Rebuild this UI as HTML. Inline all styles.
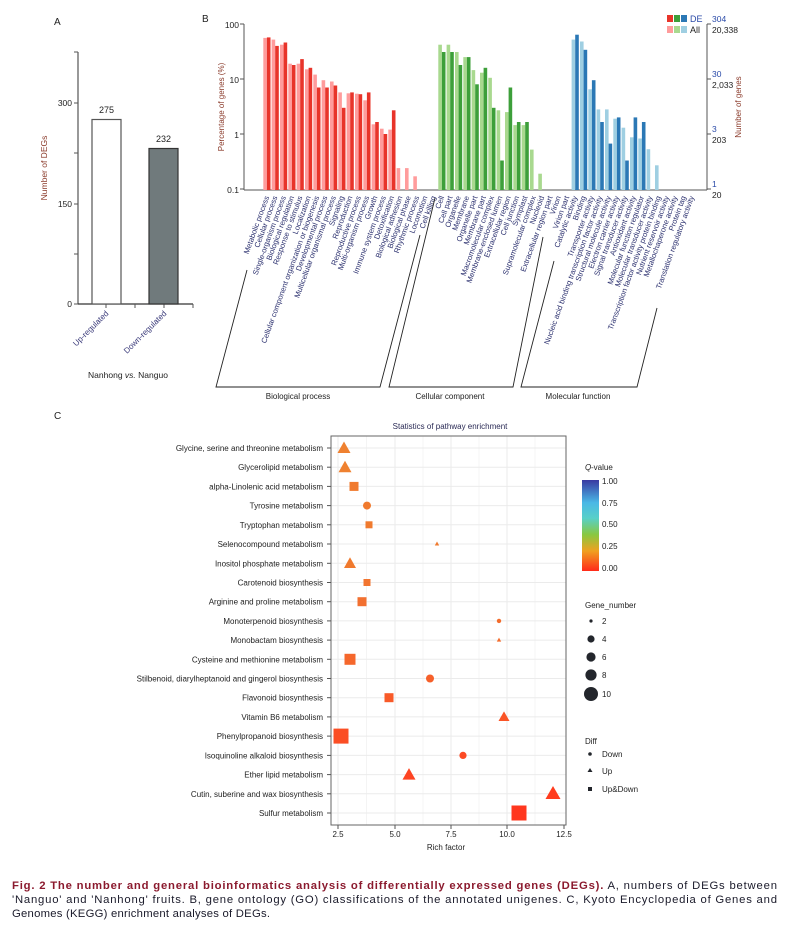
<!DOCTYPE html>
<html><head><meta charset="utf-8"><style>
html,body{margin:0;padding:0;background:#fff}
svg{display:block;font-family:"Liberation Sans",Arial,sans-serif}
.lb{font-size:7.6px;fill:#2a2f6e}
.cl{font-size:8px;fill:#222}
.a{fill:#ff9c9c}.d{fill:#e8342a}
.ga{fill:#a9d98f}.gd{fill:#3d9f3a}
.ba{fill:#9fcfe2}.bd{fill:#2b78b5}
</style></head><body>
<svg width="790" height="935" viewBox="0 0 790 935" xmlns="http://www.w3.org/2000/svg">
<!-- Panel A -->
<text x="54" y="25" font-size="10" fill="#222">A</text>
<line x1="78" y1="52" x2="78" y2="304" stroke="#555" stroke-width="1.2"/>
<line x1="78" y1="304" x2="193" y2="304" stroke="#333" stroke-width="1.2"/>
<g stroke="#555" stroke-width="1">
<line x1="74" y1="52" x2="78" y2="52"/><line x1="74" y1="103" x2="78" y2="103"/><line x1="74" y1="153" x2="78" y2="153"/><line x1="74" y1="204" x2="78" y2="204"/><line x1="74" y1="254" x2="78" y2="254"/><line x1="74" y1="304" x2="78" y2="304"/>
<line x1="106" y1="304" x2="106" y2="308"/><line x1="135" y1="304" x2="135" y2="308"/><line x1="164" y1="304" x2="164" y2="308"/><line x1="193" y1="304" x2="193" y2="308"/>
</g>
<g font-size="8.5" fill="#222" text-anchor="end"><text x="72" y="106">300</text><text x="72" y="207">150</text><text x="72" y="307">0</text></g>
<text transform="translate(47,168) rotate(-90)" font-size="8.5" fill="#8a3a2a" text-anchor="middle">Number of DEGs</text>
<rect x="92" y="119.5" width="29" height="184.5" fill="#fff" stroke="#555" stroke-width="1.2"/>
<rect x="149" y="148.5" width="29" height="155.5" fill="#707a7c" stroke="#333" stroke-width="1.2"/>
<text x="106.5" y="113" font-size="9" fill="#222" text-anchor="middle">275</text>
<text x="163.5" y="142" font-size="9" fill="#222" text-anchor="middle">232</text>
<text transform="translate(109,314) rotate(-45)" font-size="8" fill="#3a3a7a" text-anchor="end">Up-regulated</text>
<text transform="translate(167,314) rotate(-45)" font-size="8" fill="#3a3a7a" text-anchor="end">Down-regulated</text>
<text x="128" y="378" font-size="8.5" fill="#222" text-anchor="middle">Nanhong <tspan font-style="italic">vs.</tspan> Nanguo</text>

<!-- Panel B -->
<text x="202" y="22" font-size="10" fill="#222">B</text>
<line x1="244" y1="24" x2="244" y2="190" stroke="#555"/>
<line x1="244" y1="190" x2="707" y2="190" stroke="#555"/>
<line x1="707" y1="24" x2="707" y2="190" stroke="#555"/>
<g stroke="#555"><line x1="240" y1="24" x2="244" y2="24"/><line x1="240" y1="79" x2="244" y2="79"/><line x1="240" y1="134" x2="244" y2="134"/><line x1="240" y1="189" x2="244" y2="189"/>
<line x1="707" y1="24" x2="711" y2="24"/><line x1="707" y1="79" x2="711" y2="79"/><line x1="707" y1="134" x2="711" y2="134"/><line x1="707" y1="189" x2="711" y2="189"/></g>
<g font-size="8.5" fill="#222" text-anchor="end"><text x="239" y="28">100</text><text x="239" y="83">10</text><text x="239" y="138">1</text><text x="239" y="193">0.1</text></g>
<text transform="translate(224,107) rotate(-90)" font-size="8" fill="#8a3a2a" text-anchor="middle">Percentage of genes (%)</text>
<g font-size="8.5"><text x="712" y="22" fill="#2a4aa8">304</text><text x="712" y="33" fill="#222">20,338</text>
<text x="712" y="77" fill="#2a4aa8">30</text><text x="712" y="88" fill="#222">2,033</text>
<text x="712" y="132" fill="#2a4aa8">3</text><text x="712" y="143" fill="#222">203</text>
<text x="712" y="187" fill="#2a4aa8">1</text><text x="712" y="198" fill="#222">20</text></g>
<text transform="translate(741,107) rotate(-90)" font-size="8" fill="#8a3a2a" text-anchor="middle">Number of genes</text>
<rect x="667" y="15" width="6" height="7" fill="#e8342a"/><rect x="674" y="15" width="6" height="7" fill="#3d9f3a"/><rect x="681" y="15" width="6" height="7" fill="#2b78b5"/>
<rect x="667" y="26" width="6" height="7" fill="#ff9c9c"/><rect x="674" y="26" width="6" height="7" fill="#a9d98f"/><rect x="681" y="26" width="6" height="7" fill="#9fcfe2"/>
<text x="690" y="22" font-size="9" fill="#2a4aa8">DE</text><text x="690" y="33" font-size="9" fill="#222">All</text>
<!-- BP bars -->
<rect class="a" x="263.3" y="37.9" width="3.6" height="152.1"/><rect class="d" x="266.9" y="37.4" width="3.6" height="152.6"/>
<rect class="a" x="271.6" y="39.6" width="3.6" height="150.4"/><rect class="d" x="275.2" y="45.9" width="3.6" height="144.1"/>
<rect class="a" x="280" y="44.7" width="3.6" height="145.3"/><rect class="d" x="283.6" y="42.5" width="3.6" height="147.5"/>
<rect class="a" x="288.3" y="63.7" width="3.6" height="126.3"/><rect class="d" x="291.9" y="65" width="3.6" height="125"/>
<rect class="a" x="296.6" y="63.7" width="3.6" height="126.3"/><rect class="d" x="300.2" y="59.1" width="3.6" height="130.9"/>
<rect class="a" x="305" y="69.3" width="3.6" height="120.7"/><rect class="d" x="308.6" y="67.8" width="3.6" height="122.2"/>
<rect class="a" x="313.3" y="74.6" width="3.6" height="115.4"/><rect class="d" x="316.9" y="87.5" width="3.6" height="102.5"/>
<rect class="a" x="321.6" y="80.2" width="3.6" height="109.8"/><rect class="d" x="325.2" y="87.5" width="3.6" height="102.5"/>
<rect class="a" x="330" y="81.5" width="3.6" height="108.5"/><rect class="d" x="333.6" y="85.5" width="3.6" height="104.5"/>
<rect class="a" x="338.3" y="92.4" width="3.6" height="97.6"/><rect class="d" x="341.9" y="107.8" width="3.6" height="82.2"/>
<rect class="a" x="346.6" y="93.3" width="3.6" height="96.7"/><rect class="d" x="350.2" y="92.4" width="3.6" height="97.6"/>
<rect class="a" x="355" y="93.7" width="3.6" height="96.3"/><rect class="d" x="358.6" y="94.2" width="3.6" height="95.8"/>
<rect class="a" x="363.3" y="100.3" width="3.6" height="89.7"/><rect class="d" x="366.9" y="92.4" width="3.6" height="97.6"/>
<rect class="a" x="371.6" y="124.3" width="3.6" height="65.7"/><rect class="d" x="375.2" y="122" width="3.6" height="68"/>
<rect class="a" x="380" y="128.7" width="3.6" height="61.3"/><rect class="d" x="383.6" y="134" width="3.6" height="56"/>
<rect class="a" x="388.3" y="129.6" width="3.6" height="60.4"/><rect class="d" x="391.9" y="110.3" width="3.6" height="79.7"/>
<rect class="a" x="396.6" y="168.1" width="3.6" height="21.9"/>
<rect class="a" x="405" y="168.1" width="3.6" height="21.9"/>
<rect class="a" x="413.3" y="176.3" width="3.6" height="13.7"/>
<!-- CC bars -->
<rect class="ga" x="438.3" y="44.7" width="3.6" height="145.3"/><rect class="gd" x="441.9" y="52" width="3.6" height="138"/>
<rect class="ga" x="446.6" y="44.7" width="3.6" height="145.3"/><rect class="gd" x="450.2" y="52" width="3.6" height="138"/>
<rect class="ga" x="455" y="52" width="3.6" height="138"/><rect class="gd" x="458.6" y="65" width="3.6" height="125"/>
<rect class="ga" x="463.3" y="57.1" width="3.6" height="132.9"/><rect class="gd" x="466.9" y="57.1" width="3.6" height="132.9"/>
<rect class="ga" x="471.6" y="70.1" width="3.6" height="119.9"/><rect class="gd" x="475.2" y="84.3" width="3.6" height="105.7"/>
<rect class="ga" x="480" y="72.7" width="3.6" height="117.3"/><rect class="gd" x="483.6" y="67.8" width="3.6" height="122.2"/>
<rect class="ga" x="488.3" y="77.8" width="3.6" height="112.2"/><rect class="gd" x="491.9" y="107.8" width="3.6" height="82.2"/>
<rect class="ga" x="496.6" y="110.3" width="3.6" height="79.7"/><rect class="gd" x="500.2" y="160.5" width="3.6" height="29.5"/>
<rect class="ga" x="505" y="112.1" width="3.6" height="77.9"/><rect class="gd" x="508.6" y="87.5" width="3.6" height="102.5"/>
<rect class="ga" x="513.3" y="125.1" width="3.6" height="64.9"/><rect class="gd" x="516.9" y="122" width="3.6" height="68"/>
<rect class="ga" x="521.6" y="125.1" width="3.6" height="64.9"/><rect class="gd" x="525.2" y="122" width="3.6" height="68"/>
<rect class="ga" x="530" y="149.6" width="3.6" height="40.4"/>
<rect class="ga" x="538.3" y="173.7" width="3.6" height="16.3"/>
<!-- MF bars -->
<rect class="ba" x="571.6" y="39.6" width="3.6" height="150.4"/><rect class="bd" x="575.2" y="34.7" width="3.6" height="155.3"/>
<rect class="ba" x="580" y="41.5" width="3.6" height="148.5"/><rect class="bd" x="583.6" y="49.8" width="3.6" height="140.2"/>
<rect class="ba" x="588.3" y="89.3" width="3.6" height="100.7"/><rect class="bd" x="591.9" y="80.2" width="3.6" height="109.8"/>
<rect class="ba" x="596.6" y="109.4" width="3.6" height="80.6"/><rect class="bd" x="600.2" y="122" width="3.6" height="68"/>
<rect class="ba" x="605" y="109.4" width="3.6" height="80.6"/><rect class="bd" x="608.6" y="143.6" width="3.6" height="46.4"/>
<rect class="ba" x="613.3" y="118.7" width="3.6" height="71.3"/><rect class="bd" x="616.9" y="117.4" width="3.6" height="72.6"/>
<rect class="ba" x="621.6" y="127.7" width="3.6" height="62.3"/><rect class="bd" x="625.2" y="160.5" width="3.6" height="29.5"/>
<rect class="ba" x="630" y="137.3" width="3.6" height="52.7"/><rect class="bd" x="633.6" y="117.4" width="3.6" height="72.6"/>
<rect class="ba" x="638.3" y="138.5" width="3.6" height="51.5"/><rect class="bd" x="641.9" y="122" width="3.6" height="68"/>
<rect class="ba" x="646.6" y="149.2" width="3.6" height="40.8"/>
<rect class="ba" x="655" y="165.3" width="3.6" height="24.7"/>
<!-- B labels -->
<g class="lb" text-anchor="end">
<text transform="translate(269.3,197) rotate(-70)">Metabolic process</text>
<text transform="translate(277.6,197) rotate(-70)">Cellular process</text>
<text transform="translate(286,197) rotate(-70)">Single-organism process</text>
<text transform="translate(294.3,197) rotate(-70)">Biological regulation</text>
<text transform="translate(302.6,197) rotate(-70)">Response to stimulus</text>
<text transform="translate(311,197) rotate(-70)">Localization</text>
<text transform="translate(319.3,197) rotate(-70)">Cellular component organization or biogenesis</text>
<text transform="translate(327.6,197) rotate(-70)">Developmental process</text>
<text transform="translate(336,197) rotate(-70)">Multicellular organismal process</text>
<text transform="translate(344.3,197) rotate(-70)">Signaling</text>
<text transform="translate(352.6,197) rotate(-70)">Reproduction</text>
<text transform="translate(361,197) rotate(-70)">Reproductive process</text>
<text transform="translate(369.3,197) rotate(-70)">Multi-organism process</text>
<text transform="translate(377.6,197) rotate(-70)">Growth</text>
<text transform="translate(386,197) rotate(-70)">Immune system process</text>
<text transform="translate(394.3,197) rotate(-70)">Detoxification</text>
<text transform="translate(402.6,197) rotate(-70)">Biological adhesion</text>
<text transform="translate(411,197) rotate(-70)">Biological phase</text>
<text transform="translate(419.3,197) rotate(-70)">Rhythmic process</text>
<text transform="translate(427.6,197) rotate(-70)">Locomotion</text>
<text transform="translate(436,197) rotate(-70)">Cell killing</text>
<text transform="translate(444.3,197) rotate(-70)">Cell</text>
<text transform="translate(452.6,197) rotate(-70)">Cell part</text>
<text transform="translate(461,197) rotate(-70)">Organelle</text>
<text transform="translate(469.3,197) rotate(-70)">Membrane</text>
<text transform="translate(477.6,197) rotate(-70)">Organelle part</text>
<text transform="translate(486,197) rotate(-70)">Membrane part</text>
<text transform="translate(494.3,197) rotate(-70)">Macromolecular complex</text>
<text transform="translate(502.6,197) rotate(-70)">Membrane-enclosed lumen</text>
<text transform="translate(511,197) rotate(-70)">Extracellular region</text>
<text transform="translate(519.3,197) rotate(-70)">Cell junction</text>
<text transform="translate(527.6,197) rotate(-70)">Symplast</text>
<text transform="translate(536,197) rotate(-70)">Supramolecular complex</text>
<text transform="translate(544.3,197) rotate(-70)">Nucleoid</text>
<text transform="translate(552.6,197) rotate(-70)">Extracellular region part</text>
<text transform="translate(561,197) rotate(-70)">Virion</text>
<text transform="translate(569.3,197) rotate(-70)">Virion part</text>
<text transform="translate(577.6,197) rotate(-70)">Catalytic activity</text>
<text transform="translate(586,197) rotate(-70)">Binding</text>
<text transform="translate(594.3,197) rotate(-70)">Transporter activity</text>
<text transform="translate(602.6,197) rotate(-70)">Nucleic acid binding transcription factor activity</text>
<text transform="translate(611,197) rotate(-70)">Structural molecule activity</text>
<text transform="translate(619.3,197) rotate(-70)">Electron carrier activity</text>
<text transform="translate(627.6,197) rotate(-70)">Signal transducer activity</text>
<text transform="translate(636,197) rotate(-70)">Antioxidant activity</text>
<text transform="translate(644.3,197) rotate(-70)">Molecular function regulator</text>
<text transform="translate(652.6,197) rotate(-70)">Molecular transducer activity</text>
<text transform="translate(661,197) rotate(-70)">Transcription factor activity protein binding</text>
<text transform="translate(669.3,197) rotate(-70)">Nutrient reservoir activity</text>
<text transform="translate(677.6,197) rotate(-70)">Metallochaperone activity</text>
<text transform="translate(686,197) rotate(-70)">Protein tag</text>
<text transform="translate(694.3,197) rotate(-70)">Translation regulatory activity</text>
</g>
<g fill="none" stroke="#222" stroke-width="0.9">
<polyline points="247,270 216,387 380,387 420,235"/>
<polyline points="435,198 389,387 513,387 543,237"/>
<polyline points="554,261 521,387 637,387 657,308"/>
</g>
<g font-size="8" fill="#222" text-anchor="middle">
<text x="298" y="399">Biological process</text><text x="450" y="399">Cellular component</text><text x="578" y="399">Molecular function</text></g>

<!-- Panel C -->
<text x="54" y="419" font-size="10" fill="#222">C</text>
<text x="450" y="429" font-size="8" fill="#2a2a55" text-anchor="middle">Statistics of pathway enrichment</text>
<g stroke="#ebebeb" stroke-width="1">
<line x1="338" y1="436" x2="338" y2="825"/><line x1="395" y1="436" x2="395" y2="825"/><line x1="451" y1="436" x2="451" y2="825"/><line x1="507" y1="436" x2="507" y2="825"/>
</g>
<g stroke="#f4f4f4" stroke-width="1"><line x1="366.5" y1="436" x2="366.5" y2="825"/><line x1="423" y1="436" x2="423" y2="825"/><line x1="479" y1="436" x2="479" y2="825"/><line x1="535" y1="436" x2="535" y2="825"/></g>
<g stroke="#ebebeb" stroke-width="1">
<line x1="331" y1="448" x2="566" y2="448"/><line x1="331" y1="467.2" x2="566" y2="467.2"/><line x1="331" y1="486.4" x2="566" y2="486.4"/><line x1="331" y1="505.6" x2="566" y2="505.6"/><line x1="331" y1="524.8" x2="566" y2="524.8"/><line x1="331" y1="544" x2="566" y2="544"/><line x1="331" y1="563.3" x2="566" y2="563.3"/><line x1="331" y1="582.5" x2="566" y2="582.5"/><line x1="331" y1="601.7" x2="566" y2="601.7"/><line x1="331" y1="620.9" x2="566" y2="620.9"/><line x1="331" y1="640.1" x2="566" y2="640.1"/><line x1="331" y1="659.3" x2="566" y2="659.3"/><line x1="331" y1="678.5" x2="566" y2="678.5"/><line x1="331" y1="697.7" x2="566" y2="697.7"/><line x1="331" y1="716.9" x2="566" y2="716.9"/><line x1="331" y1="736.1" x2="566" y2="736.1"/><line x1="331" y1="755.4" x2="566" y2="755.4"/><line x1="331" y1="774.6" x2="566" y2="774.6"/><line x1="331" y1="793.8" x2="566" y2="793.8"/><line x1="331" y1="813" x2="566" y2="813"/>
</g>
<rect x="331" y="436" width="235" height="389" fill="none" stroke="#666" stroke-width="1"/>
<g stroke="#555"><line x1="327" y1="448" x2="331" y2="448"/><line x1="327" y1="467.2" x2="331" y2="467.2"/><line x1="327" y1="486.4" x2="331" y2="486.4"/><line x1="327" y1="505.6" x2="331" y2="505.6"/><line x1="327" y1="524.8" x2="331" y2="524.8"/><line x1="327" y1="544" x2="331" y2="544"/><line x1="327" y1="563.3" x2="331" y2="563.3"/><line x1="327" y1="582.5" x2="331" y2="582.5"/><line x1="327" y1="601.7" x2="331" y2="601.7"/><line x1="327" y1="620.9" x2="331" y2="620.9"/><line x1="327" y1="640.1" x2="331" y2="640.1"/><line x1="327" y1="659.3" x2="331" y2="659.3"/><line x1="327" y1="678.5" x2="331" y2="678.5"/><line x1="327" y1="697.7" x2="331" y2="697.7"/><line x1="327" y1="716.9" x2="331" y2="716.9"/><line x1="327" y1="736.1" x2="331" y2="736.1"/><line x1="327" y1="755.4" x2="331" y2="755.4"/><line x1="327" y1="774.6" x2="331" y2="774.6"/><line x1="327" y1="793.8" x2="331" y2="793.8"/><line x1="327" y1="813" x2="331" y2="813"/>
<line x1="338" y1="825" x2="338" y2="829"/><line x1="395" y1="825" x2="395" y2="829"/><line x1="451" y1="825" x2="451" y2="829"/><line x1="507" y1="825" x2="507" y2="829"/><line x1="564" y1="825" x2="564" y2="829"/></g>
<g class="cl" text-anchor="end">
<text x="323" y="451">Glycine, serine and threonine metabolism</text>
<text x="323" y="470.2">Glycerolipid metabolism</text>
<text x="323" y="489.4">alpha-Linolenic acid metabolism</text>
<text x="323" y="508.6">Tyrosine metabolism</text>
<text x="323" y="527.8">Tryptophan metabolism</text>
<text x="323" y="547">Selenocompound metabolism</text>
<text x="323" y="566.3">Inositol phosphate metabolism</text>
<text x="323" y="585.5">Carotenoid biosynthesis</text>
<text x="323" y="604.7">Arginine and proline metabolism</text>
<text x="323" y="623.9">Monoterpenoid biosynthesis</text>
<text x="323" y="643.1">Monobactam biosynthesis</text>
<text x="323" y="662.3">Cysteine and methionine metabolism</text>
<text x="323" y="681.5">Stilbenoid, diarylheptanoid and gingerol biosynthesis</text>
<text x="323" y="700.7">Flavonoid biosynthesis</text>
<text x="323" y="719.9">Vitamin B6 metabolism</text>
<text x="323" y="739.1">Phenylpropanoid biosynthesis</text>
<text x="323" y="758.4">Isoquinoline alkaloid biosynthesis</text>
<text x="323" y="777.6">Ether lipid metabolism</text>
<text x="323" y="796.8">Cutin, suberine and wax biosynthesis</text>
<text x="323" y="816">Sulfur metabolism</text>
</g>
<g font-size="8" fill="#222" text-anchor="middle"><text x="338" y="837">2.5</text><text x="395" y="837">5.0</text><text x="451" y="837">7.5</text><text x="507" y="837">10.0</text><text x="564" y="837">12.5</text>
<text x="446" y="850">Rich factor</text></g>
<!-- points -->
<polygon points="344,441.5 337.5,453 350.5,453" fill="#ef8130"/>
<polygon points="345,460.7 338.5,472.2 351.5,472.2" fill="#ef8130"/>
<rect x="349.5" y="481.9" width="9" height="9" fill="#f07a2e"/>
<circle cx="367" cy="505.6" r="4" fill="#f07a2e"/>
<rect x="365.5" y="521.3" width="7" height="7" fill="#f07a2e"/>
<polygon points="437,541.5 434.8,545.5 439.2,545.5" fill="#f07a2e"/>
<polygon points="350,557.3 344,568 356,568" fill="#f07a2e"/>
<rect x="363.5" y="579" width="7" height="7" fill="#f27530"/>
<rect x="357.5" y="597.2" width="9" height="9" fill="#f27030"/>
<circle cx="499" cy="620.9" r="2.2" fill="#f36c2c"/>
<polygon points="499,637.6 496.8,641.6 501.2,641.6" fill="#f36c2c"/>
<rect x="344.5" y="653.8" width="11" height="11" fill="#f5672c"/>
<circle cx="430" cy="678.5" r="4" fill="#f6602a"/>
<rect x="384.5" y="693.2" width="9" height="9" fill="#f85a28"/>
<polygon points="504,711.4 498.5,721 509.5,721" fill="#fa5426"/>
<rect x="333.5" y="728.6" width="15" height="15" fill="#fb4e24"/>
<circle cx="463" cy="755.4" r="3.6" fill="#fc4a24"/>
<polygon points="409,768.1 402.5,779.6 415.5,779.6" fill="#fd4422"/>
<polygon points="553,786 545.5,799 560.5,799" fill="#ff3c1e"/>
<rect x="511.5" y="805.5" width="15" height="15" fill="#ff371e"/>
<!-- legend C -->
<defs><linearGradient id="qg" x1="0" y1="0" x2="0" y2="1">
<stop offset="0" stop-color="#3a3aa2"/><stop offset="0.25" stop-color="#4ab8e6"/><stop offset="0.42" stop-color="#58d0c8"/><stop offset="0.6" stop-color="#88c840"/><stop offset="0.78" stop-color="#f0a020"/><stop offset="1" stop-color="#ff2a1a"/></linearGradient></defs>
<text x="585" y="470" font-size="8" fill="#222" font-style="italic">Q</text><text x="591" y="470" font-size="8" fill="#222">-value</text>
<rect x="582" y="480" width="17" height="91" fill="url(#qg)"/>
<g font-size="8" fill="#222"><text x="602" y="484">1.00</text><text x="602" y="506">0.75</text><text x="602" y="527">0.50</text><text x="602" y="549">0.25</text><text x="602" y="571">0.00</text>
<text x="585" y="608">Gene_number</text>
<text x="602" y="624">2</text><text x="602" y="642">4</text><text x="602" y="660">6</text><text x="602" y="678">8</text><text x="602" y="697">10</text>
<text x="585" y="744">Diff</text><text x="602" y="757">Down</text><text x="602" y="774">Up</text><text x="602" y="792">Up&amp;Down</text></g>
<g fill="#23262c"><circle cx="591" cy="621" r="1.6"/><circle cx="591" cy="639" r="3.6"/><circle cx="591" cy="657" r="4.6"/><circle cx="591" cy="675" r="5.6"/><circle cx="591" cy="694" r="7"/>
<circle cx="590" cy="754" r="1.8"/><polygon points="590,768 587.5,772 592.5,772"/><rect x="588" y="787" width="4" height="4"/></g>

<!-- caption -->
<g font-size="11.3">
<text x="12" y="889" fill="#8b1a2e" font-weight="bold" textLength="765" lengthAdjust="spacing">Fig. 2  The number and general bioinformatics analysis of differentially expressed genes (DEGs).<tspan font-weight="normal" fill="#1a1a2a">  A, numbers of DEGs between</tspan></text>
<text x="12" y="903" fill="#1a1a2a" textLength="765" lengthAdjust="spacing">'Nanguo' and 'Nanhong' fruits.  B, gene ontology (GO) classifications of the annotated unigenes.  C, Kyoto Encyclopedia of Genes and</text>
<text x="12" y="917" fill="#1a1a2a" textLength="258" lengthAdjust="spacing">Genomes (KEGG) enrichment analyses of DEGs.</text>
</g>
</svg>
</body></html>
